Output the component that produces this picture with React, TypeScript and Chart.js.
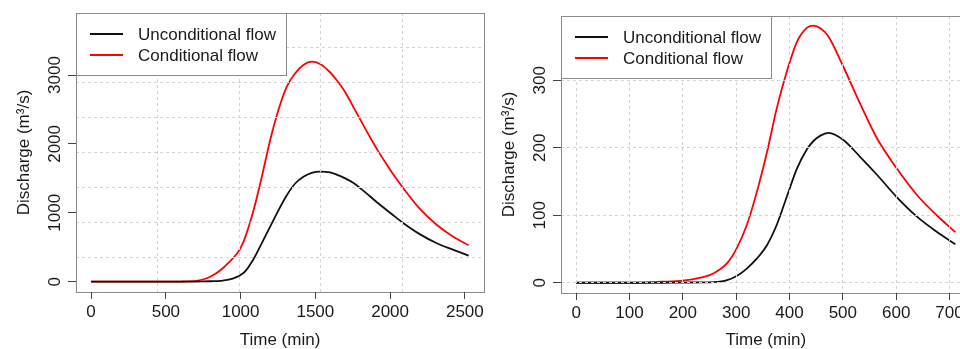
import React, { useEffect, useRef } from 'react';
import { Chart, registerables } from 'chart.js';

Chart.register(...registerables);

// ---------- data ----------
const SERIES_LABELS = ['Unconditional flow', 'Conditional flow'];
const SERIES_COLORS = ['#111111', '#ff0000'];
const X_TITLE = 'Time (min)';
const Y_TITLE = 'Discharge (m³/s)';

// left panel
const LEFT_TIME = [0, 400, 600, 700, 753, 800, 865, 920, 976, 1000, 1030, 1087, 1142, 1198, 1253, 1309, 1365, 1420, 1476, 1531, 1598, 1642, 1700, 1753, 1810, 1865, 1920, 1976, 2030, 2087, 2198, 2309, 2420, 2525];
const LEFT_UNCOND = [0, 0, 0, 1, 3, 6, 12, 28, 70, 98, 150, 330, 560, 800, 1035, 1255, 1425, 1522, 1580, 1597, 1586, 1555, 1500, 1435, 1340, 1240, 1138, 1040, 948, 852, 690, 562, 465, 377];
const LEFT_COND = [0, 0, 2, 10, 35, 75, 165, 275, 410, 490, 640, 1040, 1524, 2057, 2492, 2830, 3025, 3145, 3193, 3160, 3040, 2927, 2750, 2540, 2315, 2100, 1895, 1705, 1530, 1360, 1060, 830, 655, 528];
const LEFT_X_TICKS = [0, 500, 1000, 1500, 2000, 2500];
const LEFT_Y_TICKS = [0, 1000, 2000, 3000];

// right panel
const RIGHT_TIME = [0, 100, 160, 200, 233, 258, 283, 301, 320, 339, 358, 376, 395, 414, 433, 445, 458, 473, 501, 532, 564, 601, 639, 676, 711];
const RIGHT_UNCOND = [0, 0, 0, 0.3, 0.5, 1, 4, 10, 21, 36, 56, 85.5, 127.5, 169, 198, 210, 218, 222, 211.5, 187, 160, 127, 98, 75.6, 57];
const RIGHT_COND = [0, 0, 1.5, 3, 7.4, 14, 29, 51, 85.5, 135, 194, 258, 313, 357, 378, 381, 377, 365, 320, 266, 214, 169.5, 130, 100, 75];
const RIGHT_X_TICKS = [0, 100, 200, 300, 400, 500, 600, 700];
const RIGHT_Y_TICKS = [0, 100, 200, 300];

// ---------- styling ----------
const FONT_FAMILY = '"Liberation Sans", Arial, Helvetica, sans-serif';
const FONT = `17px ${FONT_FAMILY}`;
const TEXT_COLOR = '#1a1a1a';
const BOX_COLOR = '#8a8a8a';
const TICK_COLOR = '#444444';
const GRID_COLOR = '#d3d3d3';

const crisp = (v: number) => Math.floor(v) + 0.5;

const rPlotPlugin = {
  id: 'rPlot',
  afterDraw(chart: any, _args: any, o: any) {
    const { ctx, chartArea: a, scales } = chart;
    const xs = scales.x;
    const ys = scales.y;
    ctx.save();
    ctx.setLineDash([]);

    // plot box
    ctx.strokeStyle = BOX_COLOR;
    ctx.lineWidth = 1;
    ctx.strokeRect(crisp(a.left), crisp(a.top), Math.round(a.right - a.left), Math.round(a.bottom - a.top));

    // tick marks
    ctx.strokeStyle = TICK_COLOR;
    ctx.beginPath();
    o.xTicks.forEach((v: number) => {
      const px = crisp(xs.getPixelForValue(v));
      ctx.moveTo(px, a.bottom);
      ctx.lineTo(px, a.bottom + 7);
    });
    o.yTicks.forEach((v: number) => {
      const py = crisp(ys.getPixelForValue(v));
      ctx.moveTo(a.left, py);
      ctx.lineTo(a.left - 8, py);
    });
    ctx.stroke();

    // tick labels
    ctx.fillStyle = TEXT_COLOR;
    ctx.font = FONT;
    ctx.textAlign = 'center';
    ctx.textBaseline = 'alphabetic';
    o.xTicks.forEach((v: number) => {
      ctx.fillText(String(v), xs.getPixelForValue(v), o.xLabelBaseline);
    });
    o.yTicks.forEach((v: number) => {
      ctx.save();
      ctx.translate(o.yLabelBaseline, ys.getPixelForValue(v));
      ctx.rotate(-Math.PI / 2);
      ctx.fillText(String(v), 0, 0);
      ctx.restore();
    });

    // axis titles
    ctx.fillText(X_TITLE, (a.left + a.right) / 2, o.xTitleBaseline);
    ctx.save();
    ctx.translate(o.yTitleBaseline, (a.top + a.bottom) / 2);
    ctx.rotate(-Math.PI / 2);
    ctx.fillText(Y_TITLE, 0, 0);
    ctx.restore();

    // legend box
    const lx = Math.floor(a.left);
    const ly = Math.floor(a.top);
    ctx.fillStyle = '#ffffff';
    ctx.fillRect(lx, ly, 210, 62);
    ctx.strokeStyle = BOX_COLOR;
    ctx.strokeRect(lx + 0.5, ly + 0.5, 210, 62);
    ctx.textAlign = 'left';
    ctx.textBaseline = 'middle';
    SERIES_LABELS.forEach((lab, i) => {
      const yy = ly + 21 + i * 21;
      ctx.strokeStyle = SERIES_COLORS[i];
      ctx.lineWidth = 1.8;
      ctx.beginPath();
      ctx.moveTo(lx + 14, yy);
      ctx.lineTo(lx + 47, yy);
      ctx.stroke();
      ctx.fillStyle = TEXT_COLOR;
      ctx.fillText(lab, lx + 62, yy + 1);
    });
    ctx.restore();
  },
};

type PanelProps = {
  times: number[];
  uncond: number[];
  cond: number[];
  xTicks: number[];
  yTicks: number[];
  xMin: number;
  xMax: number;
  xStep: number;
  yMin: number;
  yMax: number;
  yStep: number;
  width: number;
  height: number;
  left: number;
  area: { left: number; right: number; top: number; bottom: number };
  xLabelBaseline: number;
  yLabelBaseline: number;
  xTitleBaseline: number;
  yTitleBaseline: number;
};

function Panel(p: PanelProps) {
  const ref = useRef<HTMLCanvasElement>(null);
  useEffect(() => {
    const toPts = (vals: number[]) => p.times.map((t, i) => ({ x: t, y: vals[i] }));
    const chart = new Chart(ref.current as HTMLCanvasElement, {
      type: 'line',
      data: {
        datasets: [
          {
            label: SERIES_LABELS[0],
            data: toPts(p.uncond),
            borderColor: SERIES_COLORS[0],
            borderWidth: 1.8,
            pointRadius: 0,
            cubicInterpolationMode: 'monotone',
            fill: false,
          },
          {
            label: SERIES_LABELS[1],
            data: toPts(p.cond),
            borderColor: SERIES_COLORS[1],
            borderWidth: 1.8,
            pointRadius: 0,
            cubicInterpolationMode: 'monotone',
            fill: false,
          },
        ],
      },
      options: {
        responsive: false,
        animation: false,
        devicePixelRatio: 1,
        layout: {
          padding: { left: 0, top: p.area.top, right: p.width - p.area.right, bottom: 0 },
        },
        plugins: {
          legend: { display: false },
          tooltip: { enabled: false },
          rPlot: {
            xTicks: p.xTicks,
            yTicks: p.yTicks,
            xLabelBaseline: p.xLabelBaseline,
            yLabelBaseline: p.yLabelBaseline,
            xTitleBaseline: p.xTitleBaseline,
            yTitleBaseline: p.yTitleBaseline,
          },
        } as any,
        scales: {
          x: {
            type: 'linear',
            min: p.xMin,
            max: p.xMax,
            ticks: { display: false, stepSize: p.xStep, includeBounds: false },
            grid: { color: GRID_COLOR, lineWidth: 1, drawTicks: false, z: 1 },
            border: { display: false, dash: [3, 3] },
            afterFit: (s: any) => {
              s.height = p.height - p.area.bottom;
            },
          },
          y: {
            type: 'linear',
            min: p.yMin,
            max: p.yMax,
            ticks: { display: false, stepSize: p.yStep, includeBounds: false },
            grid: { color: GRID_COLOR, lineWidth: 1, drawTicks: false, z: 1 },
            border: { display: false, dash: [3, 3] },
            afterFit: (s: any) => {
              s.width = p.area.left;
            },
          },
        } as any,
      },
      plugins: [rPlotPlugin],
    } as any);
    return () => chart.destroy();
  }, []);
  return (
    <canvas
      ref={ref}
      width={p.width}
      height={p.height}
      style={{ position: 'absolute', left: p.left, top: 0, width: p.width, height: p.height }}
    />
  );
}

export default function App() {
  return (
    <div
      style={{
        position: 'absolute',
        left: 0,
        top: 0,
        width: 960,
        height: 349,
        overflow: 'hidden',
        background: '#ffffff',
      }}
    >
      <Panel
        times={LEFT_TIME}
        uncond={LEFT_UNCOND}
        cond={LEFT_COND}
        xTicks={LEFT_X_TICKS}
        yTicks={LEFT_Y_TICKS}
        xMin={-101}
        xMax={2628}
        xStep={500}
        yMin={-150}
        yMax={3900}
        yStep={500}
        width={490}
        height={349}
        left={0}
        area={{ left: 76, right: 484, top: 13, bottom: 292 }}
        xLabelBaseline={317}
        yLabelBaseline={59.5}
        xTitleBaseline={345}
        yTitleBaseline={28.5}
      />
      <Panel
        times={RIGHT_TIME}
        uncond={RIGHT_UNCOND}
        cond={RIGHT_COND}
        xTicks={RIGHT_X_TICKS}
        yTicks={RIGHT_Y_TICKS}
        xMin={-28.4}
        xMax={739.4}
        xStep={100}
        yMin={-15.2}
        yMax={395.2}
        yStep={100}
        width={510}
        height={349}
        left={480}
        area={{ left: 81, right: 490.5, top: 16, bottom: 293 }}
        xLabelBaseline={318}
        yLabelBaseline={65}
        xTitleBaseline={345}
        yTitleBaseline={33.5}
      />
    </div>
  );
}
